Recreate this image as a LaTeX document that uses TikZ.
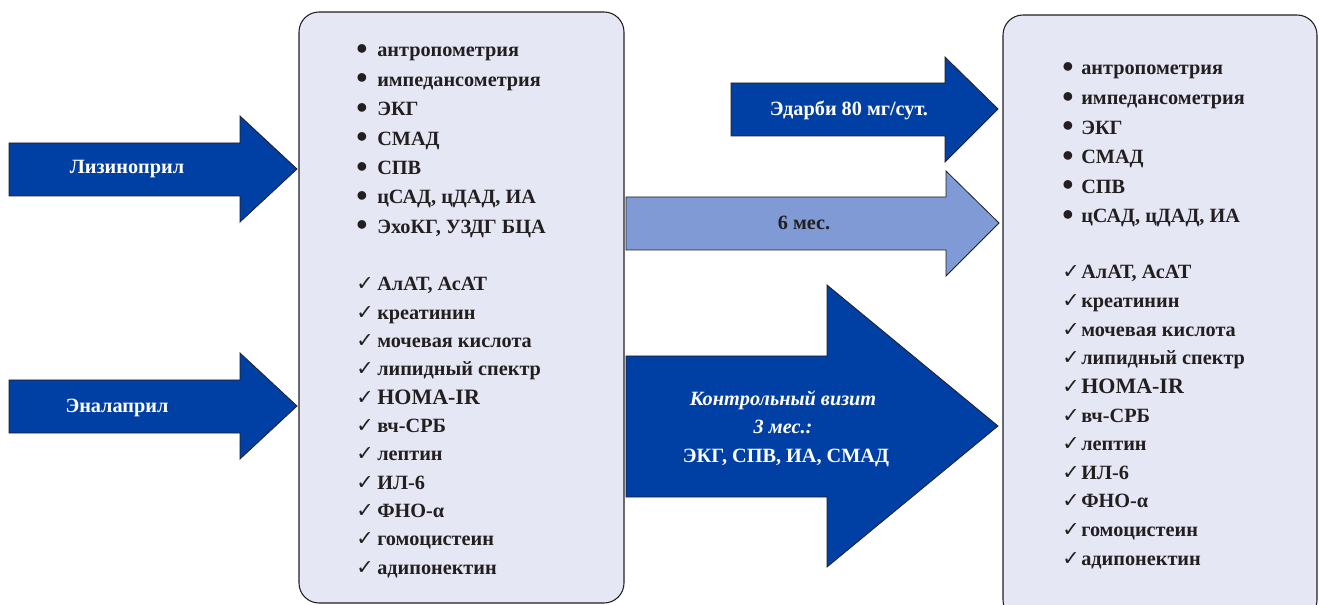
\documentclass[tikz,border=0pt]{standalone}
\usepackage{fontspec}
\setmainfont{Liberation Serif}
\newfontfamily\symfont{DejaVu Sans}
\definecolor{dkblue}{RGB}{0,64,164}
\definecolor{ltblue}{RGB}{127,154,212}
\definecolor{boxfill}{RGB}{230,231,244}
\definecolor{txt}{RGB}{35,31,32}
\tikzset{
  box/.style={draw=txt, fill=boxfill, line width=0.8pt, rounded corners=15pt},
  blockarrow/.style={draw=txt, line width=0.6pt, line join=miter},
  item/.style={anchor=base west, inner sep=0pt, text=txt, font=\fontsize{15.2}{18}\selectfont\bfseries},
  chk/.style={anchor=base west, inner sep=0pt, text=txt, font=\fontsize{15.5}{16}\selectfont\symfont},
  bul/.style={anchor=base west, inner sep=0pt, text=txt, font=\fontsize{24}{24}\selectfont\bfseries},
  lbl/.style={anchor=base, inner sep=0pt, text=white, font=\fontsize{15.2}{18}\selectfont\bfseries},
}
\begin{document}
\begin{tikzpicture}[x=0.75pt,y=-0.75pt]
\useasboundingbox (0,0) rectangle (1319,605);
% boxes
\draw[box] (299,12) rectangle (624,603);
\draw[box] (1003,15) rectangle (1317,620);
% left arrows
\draw[blockarrow, fill=dkblue] (9,143) -- (240,143) -- (240,116) -- (297,169) -- (240,222) -- (240,196) -- (9,196) -- cycle;
\draw[blockarrow, fill=dkblue] (9,380) -- (240,380) -- (240,353) -- (297,406) -- (240,459) -- (240,433) -- (9,433) -- cycle;
% middle arrows
\draw[blockarrow, fill=dkblue] (731,83) -- (945,83) -- (945,57) -- (998,109) -- (945,162) -- (945,136) -- (731,136) -- cycle;
\draw[blockarrow, fill=ltblue] (626,197) -- (946,197) -- (946,171) -- (999,223) -- (946,276) -- (946,250) -- (626,250) -- cycle;
\draw[blockarrow, fill=dkblue] (626,356) -- (827,356) -- (827,285) -- (998,426) -- (827,567) -- (827,497) -- (626,497) -- cycle;
% arrow labels
\node[lbl] (liz) at (127,174) {Лизиноприл};
\node[lbl] (enal) at (117,412) {Эналаприл};
\node[lbl] (edarbi) at (849,116) {Эдарби 80 мг/сут.};
\node[lbl, text=txt] (six) at (804,230) {6 мес.};
\node[lbl, font=\fontsize{15.2}{18}\selectfont\bfseries\itshape] (kv1) at (783,405) {Контрольный визит};
\node[lbl, font=\fontsize{15.2}{18}\selectfont\bfseries\itshape] (kv2) at (783,433) {3 мес.:};
\node[lbl] (kv3) at (786,462) {ЭКГ, СПВ, ИА, СМАД};
% left box bullets
\foreach \t [count=\i from 0] in {антропометрия, импедансометрия, ЭКГ, СМАД, СПВ, {цСАД, цДАД, ИА}, {ЭхоКГ, УЗДГ БЦА}} {
  \node[bul] (lb\i) at (356,{59.5+29.4*\i}) {•};
  \node[item] (lt\i) at (377,{57+29.4*\i}) {\t};
}
\foreach \t [count=\i from 0] in {{АлАТ, АсАТ}, креатинин, мочевая кислота, липидный спектр, {\fontsize{16.5}{18}\selectfont HOMA-IR}, вч-СРБ, лептин, ИЛ-6, ФНО-α, гомоцистеин, адипонектин} {
  \node[chk] (lc\i) at (356,{291+28.3*\i}) {✓};
  \node[item] (lu\i) at (377,{291+28.3*\i}) {\t};
}
% right box
\foreach \t [count=\i from 0] in {антропометрия, импедансометрия, ЭКГ, СМАД, СПВ, {цСАД, цДАД, ИА}} {
  \node[bul] (rb\i) at (1062,{77.5+29.6*\i}) {•};
  \node[item] (rt\i) at (1081,{75+29.6*\i}) {\t};
}
\foreach \t [count=\i from 0] in {{АлАТ, АсАТ}, креатинин, мочевая кислота, липидный спектр, {\fontsize{16.5}{18}\selectfont HOMA-IR}, вч-СРБ, лептин, ИЛ-6, ФНО-α, гомоцистеин, адипонектин} {
  \node[chk] (rc\i) at (1062,{279+28.6*\i}) {✓};
  \node[item] (ru\i) at (1081,{279+28.6*\i}) {\t};
}
\end{tikzpicture}
\end{document}
